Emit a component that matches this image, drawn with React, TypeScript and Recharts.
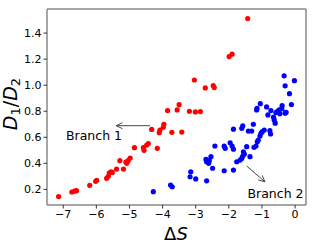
import React from "react";
import {ScatterChart, Scatter, XAxis, YAxis, ReferenceLine} from "recharts";

// Branch 1 (red)
const branch1DeltaS = [
    -7.14, -6.74, -6.66, -6.6, -6.2, -6.02, -5.99, -5.69, -5.64, -5.61, -5.56, -5.52, -5.39, -5.29,
    -5.18, -5.11, -5.08, -5.04, -4.98, -4.85, -4.58, -4.56, -4.48, -4.43, -4.33, -4.16, -4.1, -4.08,
    -3.98, -3.96, -3.72, -3.42, -3.85, -3.56, -3.5, -3.19, -3.01, -2.86, -3.04, -2.71, -2.47, -2.44,
    -1.99, -1.9, -1.43,
];
const branch1Ratio = [
    0.145, 0.18, 0.186, 0.19, 0.231, 0.262, 0.27, 0.285, 0.3, 0.325, 0.335, 0.33, 0.356, 0.42,
    0.356, 0.41, 0.4, 0.42, 0.44, 0.52, 0.52, 0.5, 0.54, 0.552, 0.66, 0.515, 0.635, 0.656,
    0.677, 0.7, 0.638, 0.64, 0.805, 0.81, 0.85, 0.8, 0.795, 0.797, 1.04, 0.979, 0.997, 0.982,
    1.22, 1.238, 1.512,
];

// Branch 2 (blue)
const branch2DeltaS = [
    -0.33, -0.02, -0.3, -0.17, -0.11, -0.27, -0.39, -0.4, -0.48, -0.53, -0.46, -0.58, -0.5,
    -0.73, -0.86, -1.05, -1.15, -0.82, -0.65, -0.63, -0.6, -0.76, -0.74, -0.93, -0.99, -1.03,
    -1.06, -1.11, -1.14, -1.26, -1.31, -1.41, -1.58, -1.61, -1.86, -1.16, -0.3,
    -1.18, -1.24, -1.46, -2.42, -2.14, -2.11, -1.96, -1.9, -1.86, -1.56, -1.53, -1.58, -1.36,
    -1.61, -1.66, -1.76, -2.54, -2.59, -2.67, -2.69, -2.61, -2.49, -2.14, -1.86, -3.15, -3.17,
    -3.0, -2.67, -3.76, -3.71, -4.28,
];
const branch2Ratio = [
    1.072, 1.035, 0.995, 0.935, 0.851, 0.792, 0.843, 0.82, 0.81, 0.8, 0.78, 0.79, 0.795,
    0.805, 0.833, 0.858, 0.823, 0.772, 0.754, 0.733, 0.708, 0.651, 0.625, 0.656, 0.643, 0.631,
    0.61, 0.579, 0.566, 0.7, 0.648, 0.648, 0.687, 0.669, 0.662, 0.81, 0.785,
    0.533, 0.523, 0.528, 0.533, 0.533, 0.515, 0.558, 0.533, 0.508, 0.489, 0.471, 0.456, 0.451,
    0.438, 0.425, 0.412, 0.451, 0.42, 0.412, 0.43, 0.4, 0.362, 0.343, 0.348, 0.335, 0.297,
    0.28, 0.266, 0.233, 0.22, 0.182,
];

const xTicks = [-7, -6, -5, -4, -3, -2, -1, 0];
const yTicks = [0.2, 0.4, 0.6, 0.8, 1.0, 1.2, 1.4];
const xDomain = [-7.49, 0.33];
const yDomain = [0.08, 1.585];

const branch1 = branch1DeltaS.map((x, i) => ({x, y: branch1Ratio[i]}));
const branch2 = branch2DeltaS.map((x, i) => ({x, y: branch2Ratio[i]}));

const fmtX = (v: number) => (v < 0 ? "\u2212" + Math.abs(v) : String(v));
const fmtY = (v: number) => v.toFixed(1);

const dot = (color: string) => (p: any) => <circle cx={p.cx} cy={p.cy} r={2.6} fill={color} />;

const Arrow = (props: any) => {
    const {x1, y1, x2, y2} = props;
    const ang = Math.atan2(y2 - y1, x2 - x1);
    const len = 7;
    const spread = 0.45;
    const ax = x2 - len * Math.cos(ang - spread);
    const ay = y2 - len * Math.sin(ang - spread);
    const bx = x2 - len * Math.cos(ang + spread);
    const by = y2 - len * Math.sin(ang + spread);
    return (
        <g stroke="#333" strokeWidth={0.9} fill="none">
            <line x1={x1} y1={y1} x2={x2} y2={y2} />
            <polyline points={`${ax},${ay} ${x2},${y2} ${bx},${by}`} />
        </g>
    );
};

const font = "DejaVu Sans, sans-serif";
const spine = {stroke: "#888", strokeWidth: 1.5};

const App = () => {
    return (
        <div style={{position: "absolute", left: 0, top: 0, width: 317, height: 245}}>
            <ScatterChart width={317} height={245} margin={{top: 9, right: 11, bottom: 0, left: 0}}>
                <XAxis type="number" dataKey="x" domain={xDomain} ticks={xTicks} tickFormatter={fmtX}
                       allowDataOverflow height={40} axisLine={spine} tickLine={{stroke: "#333"}} tickSize={3.5}
                       tick={{fill: "#000", fontSize: 11, fontFamily: font}} interval={0} />
                <YAxis type="number" dataKey="y" domain={yDomain} ticks={yTicks} tickFormatter={fmtY}
                       allowDataOverflow width={47} axisLine={spine} tickLine={{stroke: "#333"}} tickSize={3.5}
                       tick={{fill: "#000", fontSize: 11, fontFamily: font}} interval={0} />
                <ReferenceLine y={yDomain[1]} stroke="#888" strokeWidth={1.5} />
                <ReferenceLine x={xDomain[1]} stroke="#888" strokeWidth={1.5} />
                <Scatter data={branch1} fill="#ff0000" shape={dot("#ff0000")} isAnimationActive={false} />
                <Scatter data={branch2} fill="#0000ff" shape={dot("#0000ff")} isAnimationActive={false} />
                <ReferenceLine segment={[{x: -4.38, y: 0.689}, {x: -5.4, y: 0.689}]} shape={Arrow} />
                <ReferenceLine segment={[{x: -1.46, y: 0.379}, {x: -0.91, y: 0.258}]} shape={Arrow} />
            </ScatterChart>
            <svg width={317} height={245} style={{position: "absolute", left: 0, top: 0, pointerEvents: "none"}}>
                <text x={66} y={139.5} fontSize={12.5} fontFamily={font} fill="#000">Branch 1</text>
                <text x={247.5} y={198} fontSize={12.5} fontFamily={font} fill="#000">Branch 2</text>
                <text x={176} y={240} fontSize={18} fontFamily={font} fill="#000" textAnchor="middle">
                    <tspan>Δ</tspan><tspan fontStyle="italic">S</tspan>
                </text>
                <text transform="translate(17,104) rotate(-90)" fontSize={19} fontFamily={font} fill="#000"
                      textAnchor="middle">
                    <tspan fontStyle="italic">D</tspan>
                    <tspan fontSize={13} dy={3}>1</tspan>
                    <tspan dy={-3}>/</tspan>
                    <tspan fontStyle="italic">D</tspan>
                    <tspan fontSize={13} dy={3}>2</tspan>
                </text>
            </svg>
        </div>
    );
};

export default App;
